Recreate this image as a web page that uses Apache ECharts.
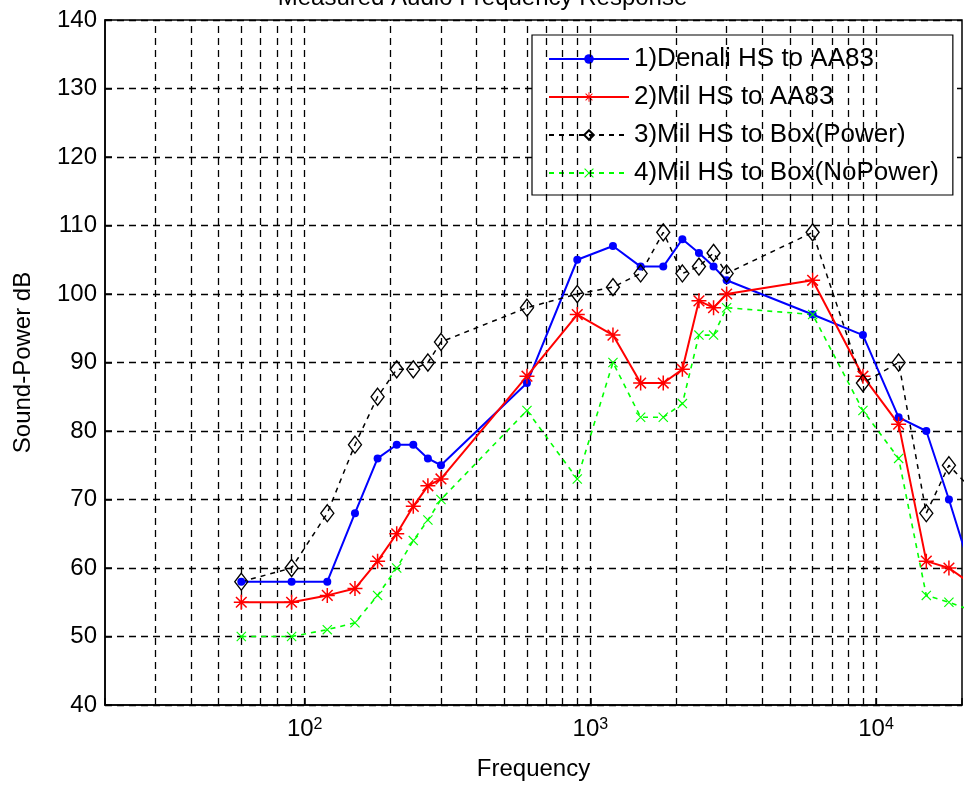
<!DOCTYPE html>
<html><head><meta charset="utf-8">
<script src="https://cdn.jsdelivr.net/npm/echarts@6/dist/echarts.min.js"></script>
<style>html,body{margin:0;padding:0;background:#fff}#c{width:965px;height:788px}</style>
</head><body><div id="c"></div>
<script>
// ---- data ----
const frequencies = [60, 90, 120, 150, 180, 210, 240, 270, 300, 600, 900, 1200, 1500, 1800, 2100, 2400, 2700, 3000, 6000, 9000, 12000, 15000, 18000, 21000];
const denaliToAA83   = [58, 58, 58, 68, 76, 78, 78, 76, 75, 87, 105, 107, 104, 104, 108, 106, 104, 102, 97, 94, 82, 80, 70, 61];
const milToAA83      = [55, 55, 56, 57, 61, 65, 69, 72, 73, 88, 97, 94, 87, 87, 89, 99, 98, 100, 102, 88, 81, 61, 60, 58];
const milToBoxPower  = [58, 60, 68, 78, 85, 89, 89, 90, 93, 98, 100, 101, 103, 109, 103, 104, 106, 103, 109, 87, 90, 68, 75, 72];
const milToBoxNoPower= [50, 50, 51, 52, 56, 60, 64, 67, 70, 83, 73, 90, 82, 82, 84, 94, 94, 98, 97, 83, 76, 56, 55, 54];
const seriesNames = ['1)Denali HS to AA83', '2)Mil HS to AA83', '3)Mil HS to Box(Power)', '4)Mil HS to Box(NoPower)'];
const titleText = 'Measured Audio Frequency Response';
const xAxisName = 'Frequency';
const yAxisName = 'Sound-Power dB';
const xRange = [20, 20000];
const yRange = [40, 140];
const yStep = 10;
const xGridTicks = [30, 40, 50, 60, 70, 80, 90, 100, 200, 300, 400, 500, 600, 700, 800, 900, 1000,
                    2000, 3000, 4000, 5000, 6000, 7000, 8000, 9000, 10000];

const FONT = 'Liberation Sans';
const asterisk = 'path://M9,0L11,0L11,20L9,20Z M0,9L20,9L20,11L0,11Z M2.2,3.6L3.6,2.2L17.8,16.4L16.4,17.8Z M16.4,2.2L17.8,3.6L3.6,17.8L2.2,16.4Z';
const xMark = 'path://M0,1.6L1.6,0L20,18.4L18.4,20Z M18.4,0L20,1.6L1.6,20L0,18.4Z';

function pairs(ys) { return frequencies.map((f, i) => [f, ys[i]]); }

const chart = echarts.init(document.getElementById('c'), null, {renderer: 'canvas'});
chart.setOption({
  animation: false,
  backgroundColor: '#fff',
  textStyle: {fontFamily: FONT, color: '#000'},
  title: {
    text: titleText, left: 'center', top: -19,
    textStyle: {fontFamily: FONT, fontSize: 24, fontWeight: 'normal', color: '#000', lineHeight: 24}
  },
  grid: {left: 105, top: 20, right: -4, bottom: 83, show: true, borderColor: '#000', borderWidth: 1.5, backgroundColor: '#fff'},
  legend: {
    orient: 'vertical', left: 532, top: 35,
    padding: [11, 14, 9, 16],
    itemWidth: 80, itemHeight: 12, itemGap: 12,
    backgroundColor: '#fff', borderColor: '#000', borderWidth: 1.2,
    textStyle: {fontFamily: FONT, fontSize: 26, color: '#000', lineHeight: 12},
    data: seriesNames
  },
  xAxis: {
    type: 'log', logBase: 10, min: xRange[0], max: xRange[1],
    name: xAxisName, nameLocation: 'middle', nameGap: 52,
    nameTextStyle: {fontFamily: FONT, fontSize: 24, color: '#000'},
    axisLine: {lineStyle: {color: '#000', width: 1.5}},
    axisTick: {inside: true, length: 7, lineStyle: {color: '#000', width: 1.5}},
    splitLine: {show: false},
    axisLabel: {
      margin: 12,
      formatter: function (v) {
        const e = Math.log10(v), r = Math.round(e);
        if (Math.abs(e - r) < 1e-6) return '{b|10}{s|' + r + '}';
        return '';
      },
      rich: {
        b: {fontFamily: FONT, fontSize: 24, color: '#000', verticalAlign: 'bottom', lineHeight: 24, padding: [8, 0, 0, 0]},
        s: {fontFamily: FONT, fontSize: 16, color: '#000', verticalAlign: 'top', lineHeight: 16}
      }
    }
  },
  yAxis: {
    type: 'value', min: yRange[0], max: yRange[1], interval: yStep,
    name: yAxisName, nameLocation: 'middle', nameGap: 70, nameRotate: 90,
    nameTextStyle: {fontFamily: FONT, fontSize: 24, color: '#000'},
    axisLine: {show: true, lineStyle: {color: '#000', width: 1.5}},
    axisTick: {show: true, inside: true, length: 7, lineStyle: {color: '#000', width: 1.5}},
    axisLabel: {margin: 8, fontFamily: FONT, fontSize: 24, color: '#000'},
    splitLine: {show: true, lineStyle: {color: '#000', type: [7, 5], width: 1.3}}
  },
  series: [
    {
      name: seriesNames[0], type: 'line', data: pairs(denaliToAA83),
      symbol: 'circle', symbolSize: 8, showAllSymbol: true,
      lineStyle: {color: '#0000ff', width: 2},
      itemStyle: {color: '#0000ff'},
      z: 5,
      markLine: {
        silent: true, symbol: ['none', 'none'], label: {show: false}, animation: false,
        lineStyle: {color: '#000', type: [7, 5], width: 1.3},
        emphasis: {disabled: true},
        data: xGridTicks.map(v => ({xAxis: v}))
      }
    },
    {
      name: seriesNames[1], type: 'line', data: pairs(milToAA83),
      symbol: asterisk, symbolSize: 15, showAllSymbol: true,
      lineStyle: {color: '#ff0000', width: 2},
      itemStyle: {color: '#ff0000'},
      z: 5
    },
    {
      name: seriesNames[2], type: 'line', data: pairs(milToBoxPower),
      symbol: 'diamond', symbolSize: [13, 17], showAllSymbol: true,
      lineStyle: {color: '#000', width: 1.5, type: [5, 5]},
      itemStyle: {color: 'rgba(0,0,0,0)', borderColor: '#000', borderWidth: 1.4},
      z: 5
    },
    {
      name: seriesNames[3], type: 'line', data: pairs(milToBoxNoPower),
      symbol: xMark, symbolSize: 10, showAllSymbol: true,
      lineStyle: {color: '#00ff00', width: 1.6, type: [5, 5]},
      itemStyle: {color: '#00ff00'},
      z: 5
    }
  ]
});
</script></body></html>
